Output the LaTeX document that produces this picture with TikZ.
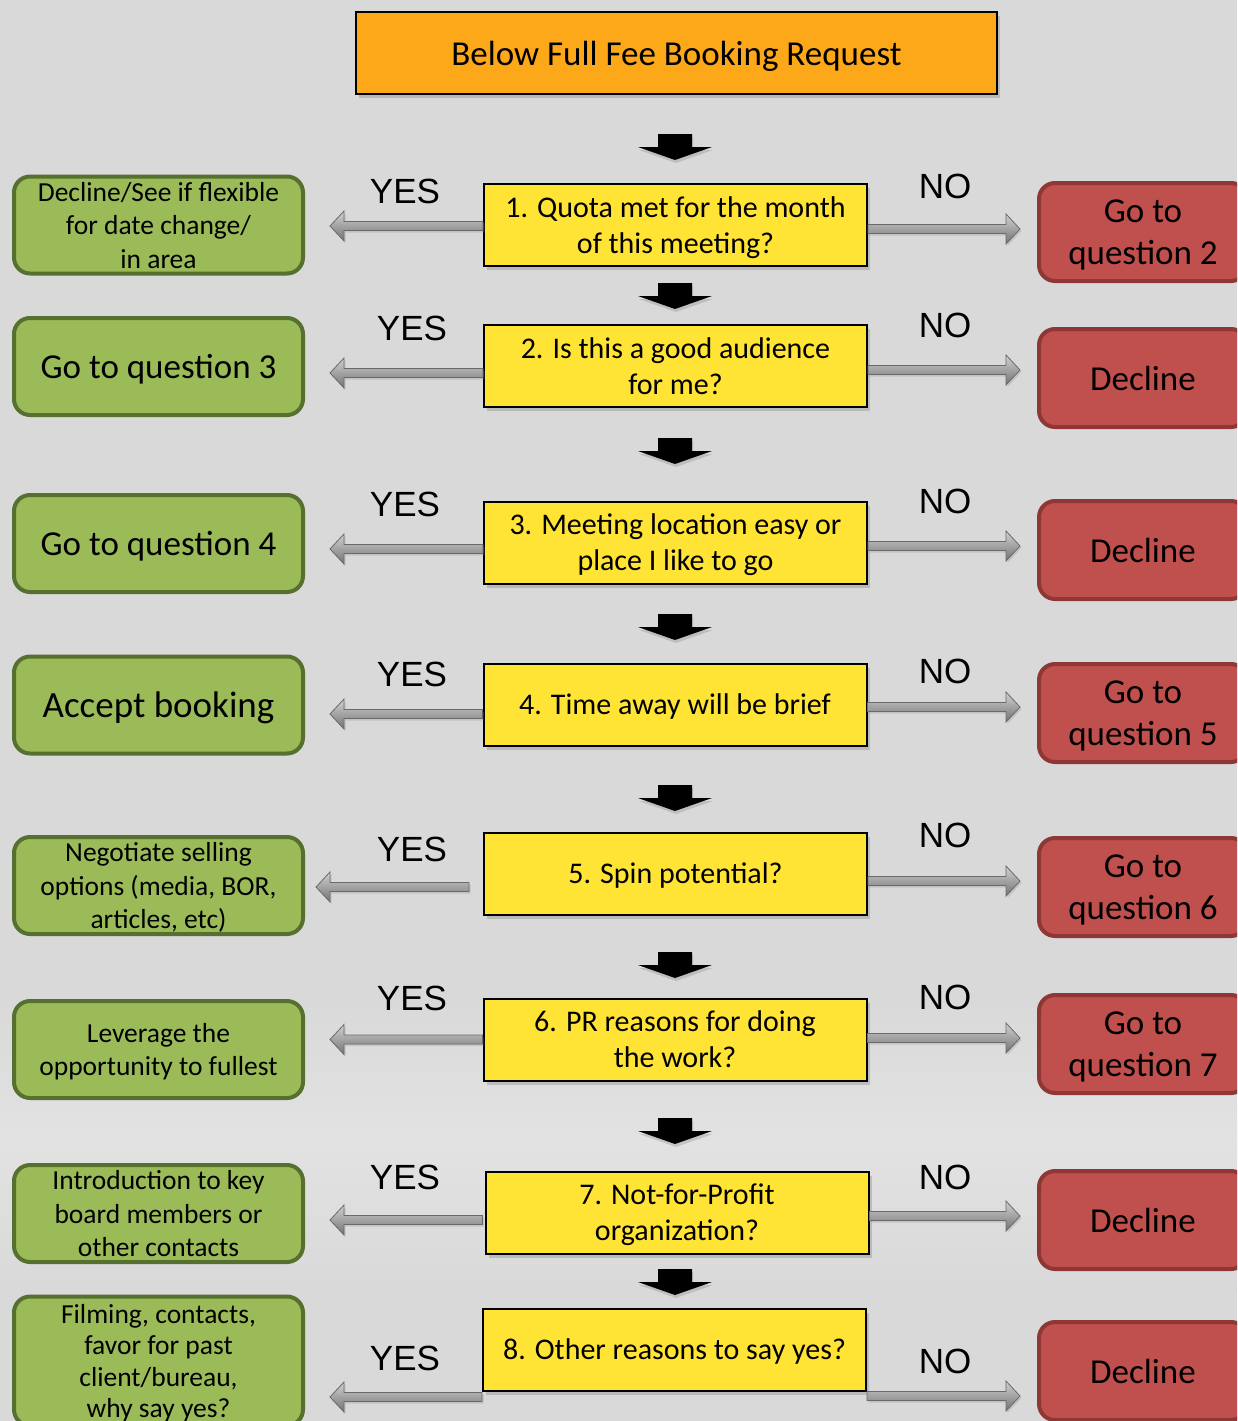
\documentclass[tikz,border=0pt]{standalone}
\usepackage{fontspec}
\setmainfont{Carlito}
\newfontfamily\arialfont{Liberation Sans}
\usetikzlibrary{calc,shadows}
\definecolor{bg}{HTML}{D9D9D9}
\definecolor{bglight}{HTML}{E2E2E2}
\definecolor{orangebox}{HTML}{FCA819}
\definecolor{yellowbox}{HTML}{FFE335}
\definecolor{greenbox}{HTML}{9BBB59}
\definecolor{greenline}{HTML}{56702F}
\definecolor{redbox}{HTML}{C0504D}
\definecolor{redline}{HTML}{8E3836}
\definecolor{arrline}{HTML}{6A6A6A}
\tikzset{
  shade box/.style={drop shadow={shadow xshift=3pt, shadow yshift=-4pt, opacity=0.35}},
  titlebox/.style={draw=black, line width=2pt, fill=orangebox, minimum width=641, minimum height=82, inner sep=0, text depth=0pt, font=\fontsize{35}{40}\selectfont, shade box},
  quest/.style={draw=black, line width=2pt, fill=yellowbox, minimum width=383, minimum height=82, inner sep=0, text depth=0pt, align=center, font=\fontsize{30}{36}\selectfont, shade box},
  yesbox/.style={draw=greenline, line width=4pt, fill=greenbox, rounded corners=16pt, minimum width=289, minimum height=97, inner sep=0, text depth=0pt, align=center},
  nobox/.style={draw=redline, line width=4pt, fill=redbox, rounded corners=16pt, minimum width=208, minimum height=98, inner sep=0, text depth=0pt, align=center, font=\fontsize{35}{42}\selectfont},
  small/.style={font=\fontsize{27.5}{33.5}\selectfont},
  big/.style={font=\fontsize{35}{42}\selectfont},
  answer/.style={font=\arialfont\fontsize{35}{40}\selectfont},
  garrow/.style={draw=arrline, line width=0.8pt, top color=black!18, bottom color=black!55,
    drop shadow={shadow xshift=1.5pt, shadow yshift=-2pt, opacity=0.25}},
  darrow/.pic={\fill[black, drop shadow={shadow xshift=1pt, shadow yshift=-3pt, opacity=0.3}]
    (-17,-13) -- (17,-13) -- (17,0) -- (37,0) -- (0,13) -- (-37,0) -- (-17,0) -- cycle;},
}
\newcommand\blockarrow[2]{%
  \draw[garrow] let \p1=#1, \p2=#2, \n1={14*sign(\x2-\x1)} in
    (\x1,\y1+4.5pt) -- ({\x2-(\n1)*1pt},\y1+4.5pt) -- ({\x2-(\n1)*1pt},\y1+15pt) -- (\x2,\y1)
    -- ({\x2-(\n1)*1pt},\y1-15pt) -- ({\x2-(\n1)*1pt},\y1-4.5pt) -- (\x1,\y1-4.5pt) -- cycle;}
\begin{document}
\begin{tikzpicture}[x=1pt, y=-1pt]
\useasboundingbox (0,0) rectangle (1237,1421);
\fill[bg] (0,0) rectangle (1237,1421);
\shade[top color=bg, bottom color=bglight] (0,1000) rectangle (1237,1140);
\shade[top color=bglight, bottom color=bg] (0,1140) rectangle (1237,1290);
\clip (0,0) rectangle (1237,1421);

\node[titlebox] (start) at (676.5,53) {Below Full Fee Booking Request};

\node[quest] (q1) at (675.5,225) {1. Quota met for the month\\of this meeting?};
\node[quest] (q2) at (675.5,366) {2. Is this a good audience\\for me?};
\node[quest] (q3) at (675.5,542.5) {3. Meeting location easy or\\place I like to go};
\node[quest] (q4) at (675,704.5) {4. Time away will be brief};
\node[quest] (q5) at (675.5,873.5) {5. Spin potential?};
\node[quest] (q6) at (675,1039.5) {6. PR reasons for doing\\the work?};
\node[quest] (q7) at (677,1212.5) {7. Not-for-Profit\\organization?};
\node[quest] (q8) at (674.5,1349.5) {8. Other reasons to say yes?};

\foreach \ya in {147,296,451,627,798,965,1131,1282}
  \pic at (675,\ya) {darrow};

\node[yesbox, small] (g1) at (158.5,225) {Decline/See if flexible\\for date change/\\in area};
\node[yesbox, big] (g2) at (158.5,366.5) {Go to question 3};
\node[yesbox, big] (g3) at (158.5,543.5) {Go to question 4};
\node[yesbox, font=\fontsize{37}{44}\selectfont] (g4) at (158.5,705) {Accept booking};
\node[yesbox, small] (g5) at (158.5,885.5) {Negotiate selling\\options (media, BOR,\\articles, etc)};
\node[yesbox, small] (g6) at (158.5,1049.5) {Leverage the\\opportunity to fullest};
\node[yesbox, small] (g7) at (158.5,1213.5) {Introduction to key\\board members or\\other contacts};
\node[yesbox, minimum height=129, font=\fontsize{27.5}{31.5}\selectfont] (g8) at (158.5,1361) {Filming, contacts,\\favor for past\\client/bureau,\\why say yes?};

\node[nobox] (r1) at (1143,232) {Go to\\question 2};
\node[nobox] (r2) at (1143,378) {Decline};
\node[nobox] (r3) at (1143,550) {Decline};
\node[nobox] (r4) at (1143,713) {Go to\\question 5};
\node[nobox] (r5) at (1143,887) {Go to\\question 6};
\node[nobox] (r6) at (1143,1044) {Go to\\question 7};
\node[nobox] (r7) at (1143,1220) {Decline};
\node[nobox] (r8) at (1143,1371) {Decline};

\node[answer] (y1) at (405,191) {YES};
\node[answer] (y2) at (412,328) {YES};
\node[answer] (y3) at (405,504) {YES};
\node[answer] (y4) at (412,674) {YES};
\node[answer] (y5) at (412,849) {YES};
\node[answer] (y6) at (412,998) {YES};
\node[answer] (y7) at (405,1177) {YES};
\node[answer] (y8) at (405,1358) {YES};

\node[answer] (n1) at (945,186) {NO};
\node[answer] (n2) at (945,325) {NO};
\node[answer] (n3) at (945,501) {NO};
\node[answer] (n4) at (945,671) {NO};
\node[answer] (n5) at (945,835) {NO};
\node[answer] (n6) at (945,997) {NO};
\node[answer] (n7) at (945,1177) {NO};
\node[answer] (n8) at (945,1361) {NO};

\blockarrow{([yshift=-1]q1.west)}{([xshift=25]g1.east)}
\blockarrow{([yshift=-4]q1.east)}{([xshift=-17]r1.west)}
\blockarrow{([yshift=-7]q2.west)}{([xshift=25]g2.east)}
\blockarrow{([yshift=-4]q2.east)}{([xshift=-17]r2.west)}
\blockarrow{([yshift=-6.5]q3.west)}{([xshift=25]g3.east)}
\blockarrow{([yshift=-3.5]q3.east)}{([xshift=-17]r3.west)}
\blockarrow{([yshift=-9.5]q4.west)}{([xshift=25]g4.east)}
\blockarrow{([yshift=-2.5]q4.east)}{([xshift=-17]r4.west)}
\blockarrow{([xshift=-14,yshift=-13.5]q5.west)}{([xshift=11]g5.east)}
\blockarrow{([yshift=-7.5]q5.east)}{([xshift=-17]r5.west)}
\blockarrow{(q6.west)}{([xshift=25]g6.east)}
\blockarrow{([yshift=1.5]q6.east)}{([xshift=-17]r6.west)}
\blockarrow{([xshift=-2,yshift=-7.5]q7.west)}{([xshift=25]g7.east)}
\blockarrow{([yshift=-3.5]q7.east)}{([xshift=-17]r7.west)}
\blockarrow{([yshift=-47.5]q8.west)}{([xshift=25]g8.east)}
\blockarrow{([yshift=-46.5]q8.east)}{([xshift=-17]r8.west)}
\end{tikzpicture}
\end{document}
